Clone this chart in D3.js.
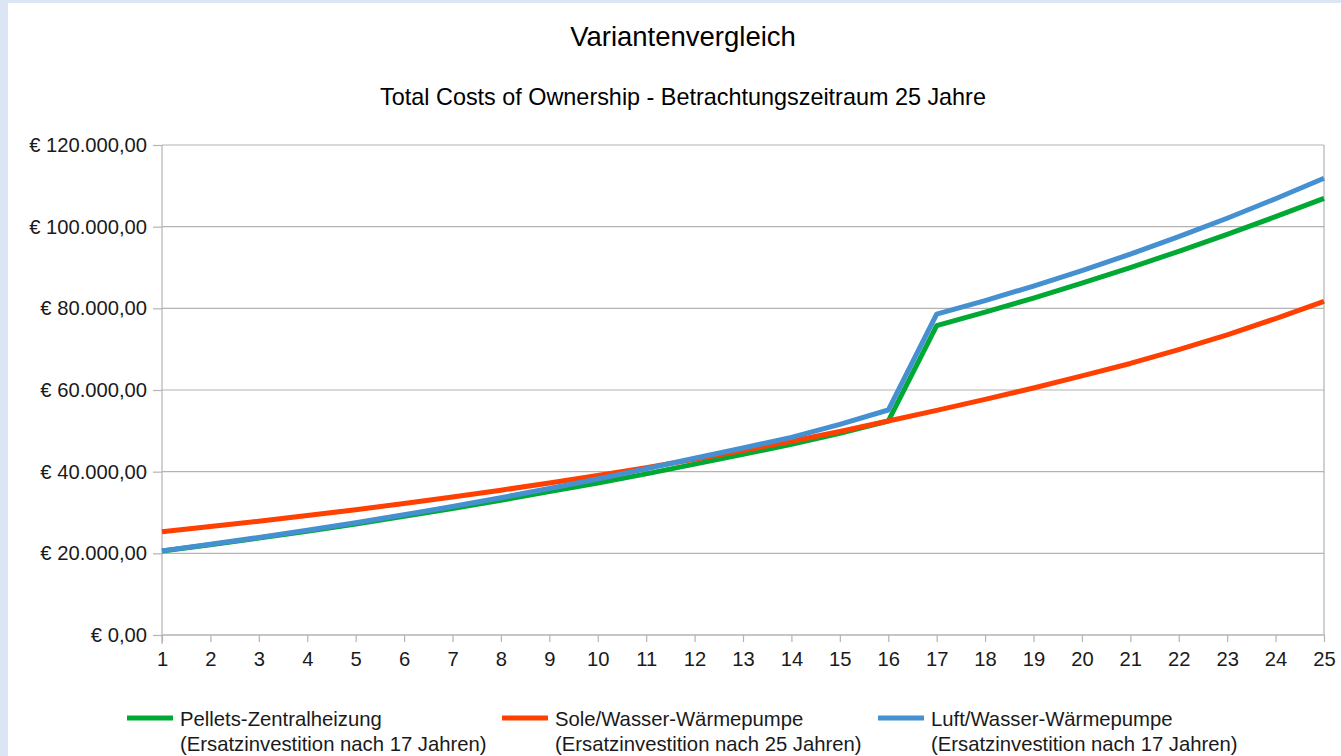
<!DOCTYPE html>
<html lang="de">
<head>
<meta charset="UTF-8">
<title>Variantenvergleich</title>
<script src="https://d3js.org/d3.v7.min.js"></script>
<style>
    body {
        margin: 0;
        padding: 0;
        background: #dce5f4;
        overflow: hidden;
        font-family: "Liberation Sans", Arial, sans-serif;
    }
    .grid line { stroke: #b3b3b3; stroke-width: 1.2px; }
    .axis path, .axis line { stroke: #b3b3b3; stroke-width: 1.2px; }
    .axis text { fill: #1a1a1a; font-size: 20.2px; font-family: "Liberation Sans", Arial, sans-serif; }
    .series { fill: none; stroke-width: 5px; stroke-linejoin: round; }
</style>
</head>
<body>
<script>
    // Jahre 1..25
    const years = d3.range(1, 26);

    // Kumulierte Kosten
    const pellets = [20570, 22120, 23740, 25430, 27200, 29050, 30980, 33000, 35110, 37200,
        39450, 41850, 44250, 46700, 49400, 52400, 75750, 79050, 82520, 86160,
        89980, 93960, 98120, 102450, 106950];
    const sole = [25300, 26550, 27860, 29240, 30690, 32210, 33800, 35470, 37220, 39060,
        40990, 43050, 45200, 47450, 49850, 52400, 55000, 57700, 60500, 63450,
        66500, 69900, 73500, 77500, 81700];
    const luft = [20600, 22200, 23880, 25640, 27490, 29430, 31470, 33610, 35860, 38220,
        40700, 43300, 45800, 48400, 51600, 55100, 78600, 81900, 85450, 89240,
        93270, 97550, 102070, 106840, 111850];

    const yTicks = [0, 20000, 40000, 60000, 80000, 100000, 120000];

    const seriesNames = [
        ["Pellets-Zentralheizung", "(Ersatzinvestition nach 17 Jahren)"],
        ["Sole/Wasser-Wärmepumpe", "(Ersatzinvestition nach 25 Jahren)"],
        ["Luft/Wasser-Wärmepumpe", "(Ersatzinvestition nach 17 Jahren)"]
    ];
    const seriesColors = ["#00a933", "#ff4000", "#4590d0"];
    const seriesData = [pellets, sole, luft];

    const width = 1341, height = 756;

    const svg = d3.select("body").append("svg")
        .attr("width", width)
        .attr("height", height);

    // weisser Diagrammhintergrund
    svg.append("rect")
        .attr("x", 8).attr("y", 3)
        .attr("width", width - 8).attr("height", height - 3)
        .attr("fill", "#fff");

    const x = d3.scaleLinear().domain([1, 25]).range([162, 1324]);
    const y = d3.scaleLinear().domain([0, 120000]).range([635, 145]);

    const de = d3.formatLocale({
        decimal: ",", thousands: ".", grouping: [3], currency: ["€ ", ""]
    });
    const euro = de.format("$,.2f");

    // Titel
    svg.append("text")
        .attr("x", 683).attr("y", 46)
        .attr("text-anchor", "middle")
        .style("font-size", "27.5px")
        .style("fill", "#000")
        .text("Variantenvergleich");

    svg.append("text")
        .attr("x", 683).attr("y", 105)
        .attr("text-anchor", "middle")
        .style("font-size", "23.4px")
        .style("fill", "#000")
        .text("Total Costs of Ownership - Betrachtungszeitraum 25 Jahre");

    // Gitterlinien
    svg.append("g").attr("class", "grid")
        .selectAll("line")
        .data(yTicks)
        .join("line")
        .attr("x1", x(1)).attr("x2", x(25))
        .attr("y1", d => y(d)).attr("y2", d => y(d));

    svg.append("line")
        .attr("x1", x(25)).attr("x2", x(25))
        .attr("y1", y(120000)).attr("y2", y(0))
        .attr("stroke", "#b3b3b3").attr("stroke-width", 1.2);

    // Achsen
    const yAxis = svg.append("g").attr("class", "axis")
        .attr("transform", `translate(${x(1)},0)`)
        .call(d3.axisLeft(y).tickValues(yTicks).tickFormat(euro).tickSize(9).tickPadding(6));
    yAxis.select(".domain").attr("d", `M0,${y(120000)}V${y(0) + 9}`);

    const xAxis = svg.append("g").attr("class", "axis")
        .attr("transform", `translate(0,${y(0)})`)
        .call(d3.axisBottom(x).tickValues(years).tickFormat(d3.format("d")).tickSize(7).tickPadding(10));
    xAxis.select(".domain").attr("d", `M${x(1)},0H${x(25)}`);

    // Linien
    const line = d3.line()
        .x((d, i) => x(years[i]))
        .y(d => y(d));

    svg.append("g")
        .selectAll("path")
        .data(seriesData)
        .join("path")
        .attr("class", "series")
        .attr("stroke", (d, i) => seriesColors[i])
        .attr("d", line);

    // Legende
    const legendX = [127, 502, 878];
    const legend = svg.append("g")
        .selectAll("g")
        .data(seriesNames)
        .join("g")
        .attr("transform", (d, i) => `translate(${legendX[i]},718)`);

    legend.append("line")
        .attr("x1", 0).attr("x2", 46)
        .attr("y1", 0).attr("y2", 0)
        .attr("stroke", (d, i) => seriesColors[i])
        .attr("stroke-width", 5);

    const lt = legend.append("text")
        .attr("x", 53).attr("y", 8)
        .style("font-size", "20.3px")
        .style("fill", "#1a1a1a");
    lt.append("tspan").attr("x", 53).attr("dy", 0).text(d => d[0]);
    lt.append("tspan").attr("x", 53).attr("dy", 25).text(d => d[1]);
</script>
</body>
</html>
